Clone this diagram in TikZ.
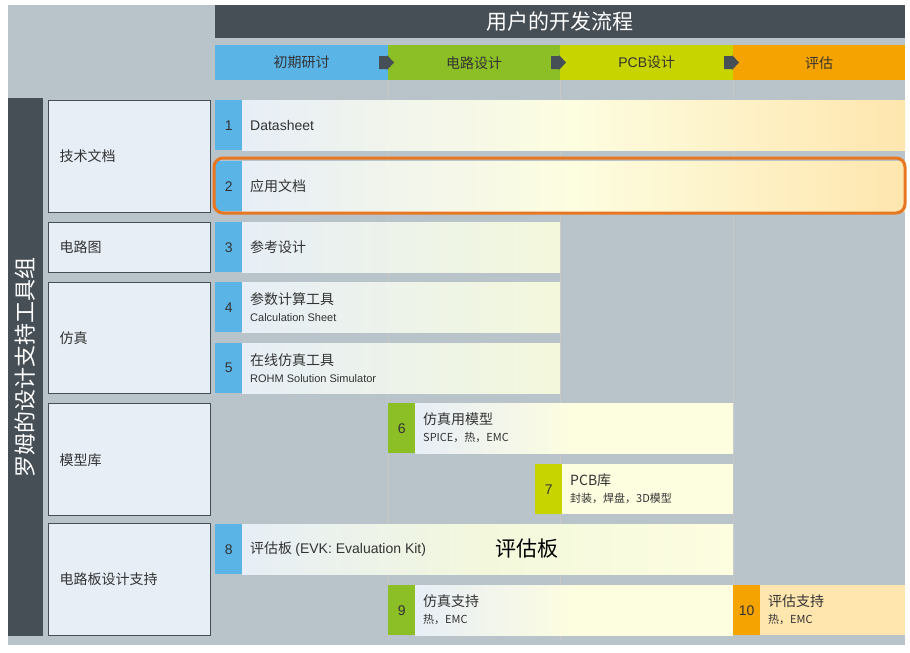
\documentclass[tikz,border=0pt]{standalone}
\usepackage{fontspec}
\setmainfont{Noto Sans CJK SC}
\setsansfont{Liberation Sans}
\definecolor{bg}{HTML}{B9C3CA}
\definecolor{dark}{HTML}{474F56}
\definecolor{cblue}{HTML}{5AB4E6}
\definecolor{cgreen}{HTML}{8CBE26}
\definecolor{cyg}{HTML}{C8D400}
\definecolor{corange}{HTML}{F5A300}
\definecolor{rowl}{HTML}{E7EEF6}
\definecolor{rowm}{HTML}{F3F8DC}
\definecolor{rowy}{HTML}{FDFDE0}
\definecolor{rowo}{HTML}{FEE6AE}
\definecolor{hl}{HTML}{E87722}
\definecolor{txt}{HTML}{333333}
\newcommand{\fs}[1]{\fontsize{#1}{#1}\selectfont}
\tikzset{
  catbox/.style={draw=dark,line width=1.4pt,fill=rowl,anchor=north west,inner sep=0pt},
  tabbox/.style={anchor=north west,minimum width=27pt,inner sep=0pt,font=\sffamily\fs{14},text=txt},
  phase/.style={anchor=north west,minimum height=35pt,inner sep=0pt,font=\fs{14},text=txt},
  cattext/.style={anchor=west,text=txt,font=\fs{14}},
}
\newcommand{\rw}[9]{% name x1 x2 y tabcol num title sub shading
  \fill[#9] (#2+27,#4) rectangle (#3,#4+50);
  \node[tabbox,fill=#5,minimum height=50pt] (#1) at (#2,#4) {#6};
  \node[anchor=west,align=left,inner sep=0pt,text=txt] (#1t) at (#2+35,#4+25) {\fs{14}#7\ifx&#8&\else\\[5pt]{\fs{11}#8}\fi};
}
\begin{document}
\begin{tikzpicture}[x=1pt,y=-1pt]
\useasboundingbox (0,0) rectangle (910,653);
\fill[white] (0,0) rectangle (910,653);
\fill[bg] (8,5) rectangle (905,645);
\foreach \x in {388,560,733} \draw[color=black!22,line width=0.8pt] (\x,80) -- (\x,640);
\node[fill=dark,anchor=north west,minimum width=690pt,minimum height=33pt,inner sep=0pt,text=white,font=\fs{21}] (hdr) at (215,5) {用户的开发流程};
\node[phase,fill=cblue,minimum width=173pt] (p1) at (215,45) {初期研讨};
\node[phase,fill=cgreen,minimum width=172pt] (p2) at (388,45) {电路设计};
\node[phase,fill=cyg,minimum width=173pt] (p3) at (560,45) {{\sffamily PCB}设计};
\node[phase,fill=corange,minimum width=172pt] (p4) at (733,45) {评估};
\foreach \x in {388,560,733} \fill[dark] (\x-9,56) rectangle (\x-1,69) (\x-1,55) -- (\x+6,62.5) -- (\x-1,70) -- cycle;
\fill[dark] (8,98) rectangle (43,636);
\node[rotate=90,text=white,font=\fs{22}] (side) at (25.5,367) {罗姆的设计支持工具组};
\node[catbox,minimum width=162pt,minimum height=112pt] (c1) at (48,100) {};
\node[cattext] at (56,156) {技术文档};
\node[catbox,minimum width=162pt,minimum height=50pt] (c2) at (48,222) {};
\node[cattext] at (56,247) {电路图};
\node[catbox,minimum width=162pt,minimum height=111pt] (c3) at (48,282) {};
\node[cattext] at (56,338) {仿真};
\node[catbox,minimum width=162pt,minimum height=112pt] (c4) at (48,403) {};
\node[cattext] at (56,460) {模型库};
\node[catbox,minimum width=162pt,minimum height=112pt] (c5) at (48,523) {};
\node[cattext] at (56,579) {电路板设计支持};
\rw{r1}{215}{905}{100}{cblue}{1}{\sffamily Datasheet}{}{left color=rowl,right color=rowo,middle color=rowy}
\rw{r2}{215}{905}{161}{cblue}{2}{应用文档}{}{left color=rowl,right color=rowo,middle color=rowy}
\rw{r3}{215}{560}{222}{cblue}{3}{参考设计}{}{left color=rowl,right color=rowm}
\rw{r4}{215}{560}{282}{cblue}{4}{参数计算工具}{\sffamily Calculation Sheet}{left color=rowl,right color=rowm}
\rw{r5}{215}{560}{343}{cblue}{5}{在线仿真工具}{\sffamily ROHM Solution Simulator}{left color=rowl,right color=rowm}
\rw{r6}{388}{733}{403}{cgreen}{6}{仿真用模型}{SPICE，热，EMC}{left color=rowl,right color=rowy,middle color=rowy}
\rw{r7}{535}{733}{464}{cyg}{7}{PCB库}{封装，焊盘，3D模型}{fill=rowy}
\rw{r8}{215}{733}{524}{cblue}{8}{评估板 {\sffamily(EVK: Evaluation Kit)}}{}{left color=rowl,right color=rowy,middle color=rowm}
\rw{r9}{388}{733}{585}{cgreen}{9}{仿真支持}{热，EMC}{left color=rowl,right color=rowy,middle color=rowy}
\rw{r10}{733}{905}{585}{corange}{10}{评估支持}{热，EMC}{fill=rowo}
\node[text=black,font=\fs{21}] (evk) at (527,549) {评估板};
\draw[hl,line width=3pt,rounded corners=9pt] (214,158) rectangle (905,213);
\end{tikzpicture}
\end{document}
